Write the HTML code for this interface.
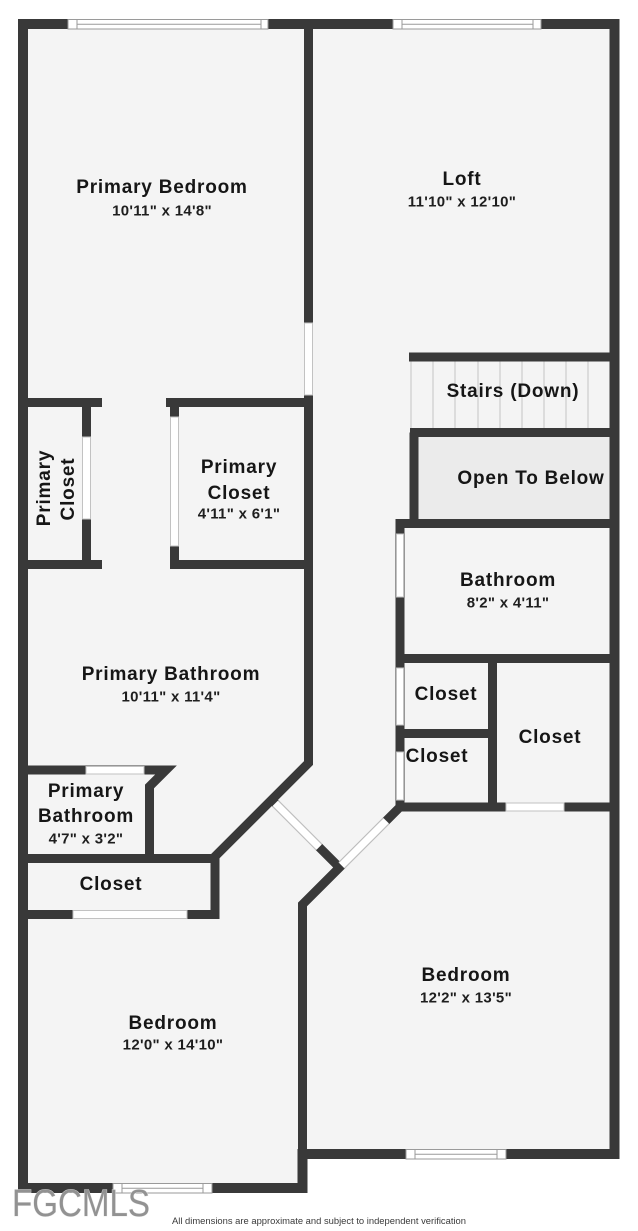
<!DOCTYPE html>
<html>
<head>
<meta charset="utf-8">
<style>
  html, body { margin: 0; padding: 0; background: #ffffff; }
  body { width: 638px; height: 1231px; overflow: hidden; }
  svg { display: block; }
  .n { font-family: "Liberation Sans", "DejaVu Sans", sans-serif; font-weight: bold; font-size: 19px; fill: #161616; letter-spacing: 0.8px; }
  .d { font-family: "Liberation Sans", "DejaVu Sans", sans-serif; font-weight: bold; font-size: 15px; fill: #1e1e1e; letter-spacing: 0.3px; }
</style>
</head>
<body>
<svg width="638" height="1231" viewBox="0 0 638 1231" xmlns="http://www.w3.org/2000/svg">
  <!-- floor -->
  <path d="M18,19 H619 V1159 H307 V1193 H18 Z" fill="#f4f4f4"/>
  <!-- open to below fill -->
  <rect x="418" y="437" width="192" height="82" fill="#ebebeb"/>

  <!-- stair treads -->
  <g stroke="#c4c4c4" stroke-width="1">
    <line x1="411" y1="361" x2="411" y2="428"/>
    <line x1="433" y1="361" x2="433" y2="428"/>
    <line x1="455" y1="361" x2="455" y2="428"/>
    <line x1="478" y1="361" x2="478" y2="428"/>
    <line x1="500" y1="361" x2="500" y2="428"/>
    <line x1="522" y1="361" x2="522" y2="428"/>
    <line x1="544" y1="361" x2="544" y2="428"/>
    <line x1="566" y1="361" x2="566" y2="428"/>
    <line x1="588" y1="361" x2="588" y2="428"/>
  </g>

  <!-- walls -->
  <g fill="none" stroke="#393939" stroke-linejoin="miter" stroke-linecap="butt">
    <path d="M23,24 H614.5 V1154 H302.5 V1188 H23 Z" stroke-width="10"/>
    <g stroke-width="9">
      <path d="M308.5,24 V763 L215,856.5 V914.5 H23"/>
      <!-- left closet -->
      <path d="M23,402.5 H102"/>
      <path d="M86.5,402.5 V564.5"/>
      <path d="M23,564.5 H102"/>
      <!-- right primary closet -->
      <path d="M166,402.5 H308.5"/>
      <path d="M174.5,402.5 V564.5"/>
      <path d="M170,564.5 H308.5"/>
      <!-- small primary bathroom -->
      <path d="M23,770 H166 L149.5,786.5 V858.5"/>
      <path d="M23,858.5 H215"/>
      <!-- stairs / open to below -->
      <path d="M409,357 H614.5"/>
      <path d="M410,432.5 H614.5"/>
      <path d="M414,432.5 V523.5"/>
      <path d="M396,523.5 H614.5"/>
      <!-- bathroom & closets -->
      <path d="M400,519 V807"/>
      <path d="M396,658.5 H614.5"/>
      <path d="M492.5,658.5 V807"/>
      <path d="M396,733.5 H492.5"/>
      <path d="M396,807 H614.5"/>
      <!-- diagonals -->
      <path d="M400,807 L302.5,904.5 V1154"/>
      <path d="M271.75,799.75 L339.5,867.5"/>
    </g>
  </g>

  <!-- door openings -->
  <g fill="#ffffff" stroke="#c2c2c2" stroke-width="1">
    <rect x="304.5" y="323" width="8" height="72"/>
    <rect x="82.5" y="437" width="8" height="82"/>
    <rect x="170.5" y="417" width="8" height="129"/>
    <rect x="86" y="766.5" width="58" height="7.5"/>
    <rect x="73" y="910.5" width="114" height="8"/>
    <rect x="396.5" y="534" width="7" height="63"/>
    <rect x="396.5" y="668" width="7" height="57"/>
    <rect x="396.5" y="752" width="7" height="48"/>
    <rect x="506" y="803" width="58" height="8"/>
  </g>
  <!-- diagonal doors -->
  <g stroke-linecap="butt">
    <line x1="275.3" y1="803.3" x2="319.1" y2="847.1" stroke="#c2c2c2" stroke-width="9"/>
    <line x1="275.3" y1="803.3" x2="319.1" y2="847.1" stroke="#ffffff" stroke-width="7"/>
    <line x1="341.6" y1="865.4" x2="386.2" y2="820.8" stroke="#c2c2c2" stroke-width="9"/>
    <line x1="341.6" y1="865.4" x2="386.2" y2="820.8" stroke="#ffffff" stroke-width="7"/>
  </g>

  <!-- windows -->
  <g fill="#ffffff" stroke="#9a9a9a" stroke-width="1">
    <rect x="68" y="19.5" width="200" height="9.5"/>
    <rect x="77" y="19.5" width="184" height="9.5"/>
    <line x1="77" y1="24.2" x2="261" y2="24.2"/>
    <rect x="393" y="19.5" width="148" height="9.5"/>
    <rect x="402" y="19.5" width="131" height="9.5"/>
    <line x1="402" y1="24.2" x2="533" y2="24.2"/>
    <rect x="113" y="1183.5" width="99" height="9.5"/>
    <rect x="122" y="1183.5" width="81" height="9.5"/>
    <line x1="122" y1="1188.2" x2="203" y2="1188.2"/>
    <rect x="406" y="1149.5" width="100" height="9.5"/>
    <rect x="415" y="1149.5" width="82" height="9.5"/>
    <line x1="415" y1="1154.2" x2="497" y2="1154.2"/>
  </g>

  <!-- labels -->
  <g text-anchor="middle">
    <text class="n" x="162" y="193">Primary Bedroom</text>
    <text class="d" x="162" y="215.5">10'11" x 14'8"</text>

    <text class="n" x="462" y="185">Loft</text>
    <text class="d" x="462" y="206.5">11'10" x 12'10"</text>

    <text class="n" x="513" y="397">Stairs (Down)</text>
    <text class="n" x="531" y="484">Open To Below</text>

    <text class="n" x="239" y="473">Primary</text>
    <text class="n" x="239" y="499">Closet</text>
    <text class="d" x="239" y="518.5">4'11" x 6'1"</text>

    <text class="n" transform="translate(43,488) rotate(-90)" x="0" y="7">Primary</text>
    <text class="n" transform="translate(67,489) rotate(-90)" x="0" y="7">Closet</text>

    <text class="n" x="171" y="680">Primary Bathroom</text>
    <text class="d" x="171" y="701.5">10'11" x 11'4"</text>

    <text class="n" x="86" y="797">Primary</text>
    <text class="n" x="86" y="822">Bathroom</text>
    <text class="d" x="86" y="843.5">4'7" x 3'2"</text>

    <text class="n" x="111" y="890">Closet</text>

    <text class="n" x="173" y="1029">Bedroom</text>
    <text class="d" x="173" y="1049.5">12'0" x 14'10"</text>

    <text class="n" x="466" y="981">Bedroom</text>
    <text class="d" x="466" y="1002.5">12'2" x 13'5"</text>

    <text class="n" x="508" y="586">Bathroom</text>
    <text class="d" x="508" y="607.5">8'2" x 4'11"</text>

    <text class="n" x="446" y="700">Closet</text>
    <text class="n" x="437" y="762">Closet</text>
    <text class="n" x="550" y="743">Closet</text>
  </g>

  <!-- watermark -->
  <text x="12" y="1216" font-family="Liberation Sans, DejaVu Sans, sans-serif" font-size="38" fill="#929292" stroke="#e6e6e6" stroke-width="0.8" paint-order="stroke" textLength="138" lengthAdjust="spacingAndGlyphs">FGCMLS</text>

  <!-- footnote -->
  <text x="172" y="1224" font-family="Liberation Sans, DejaVu Sans, sans-serif" font-size="9" fill="#3a3a3a" textLength="294" lengthAdjust="spacingAndGlyphs">All dimensions are approximate and subject to independent verification</text>
</svg>
</body>
</html>
